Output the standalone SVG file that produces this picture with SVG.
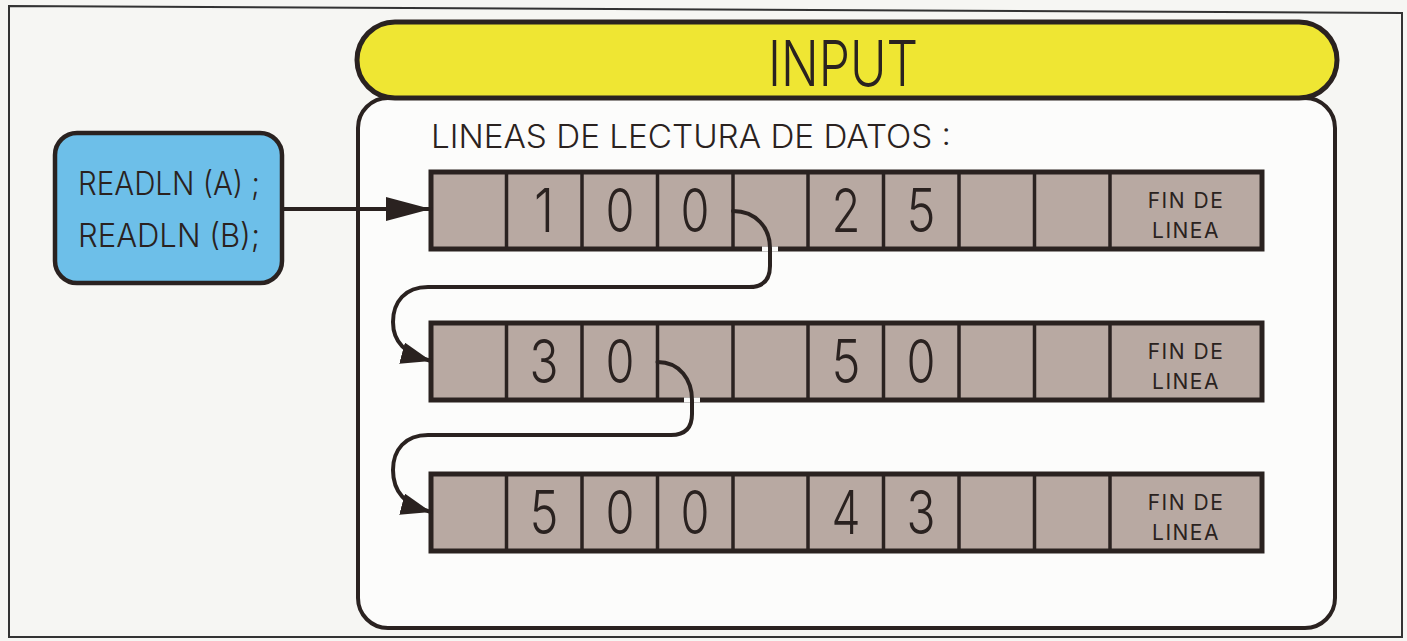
<svg xmlns="http://www.w3.org/2000/svg" width="1407" height="641" viewBox="0 0 1407 641">
<style>
.t{font-family:Inter,"Liberation Sans",sans-serif;font-weight:300;fill:#2a2220;}
.dig{font-size:60px;text-anchor:middle;}
.fin{font-size:21px;font-weight:400;text-anchor:middle;letter-spacing:1.5px;}
.cell{fill:#b8a9a2;}
.out{fill:none;stroke:#2a2220;stroke-width:5;}
.div{stroke:#2a2220;stroke-width:3.5;}
.con{fill:none;stroke:#2a2220;stroke-width:4;stroke-linecap:round;stroke-linejoin:round;}
.gap{fill:#fcfcfb;}
</style>
<defs>
<marker id="arrBig" markerUnits="userSpaceOnUse" markerWidth="46" markerHeight="26" refX="45" refY="12" orient="auto"><path d="M0,0 L45,12 L0,24 Z" fill="#2a2220"/></marker>
<marker id="arrSm" markerUnits="userSpaceOnUse" markerWidth="32" markerHeight="24" refX="30" refY="11" orient="auto"><path d="M0,0 L30,11 L0,22 Z" fill="#2a2220"/></marker>
</defs>
<rect x="0" y="0" width="1407" height="641" fill="#f6f6f3"/>
<path d="M9,6 L1402,13 L1402,637 L9,637 Z" fill="none" stroke="#333" stroke-width="2"/>

<g id="panel">
<rect x="358" y="98" width="977" height="530" rx="30" fill="#fcfcfb" stroke="#2a2220" stroke-width="4"/>
<text class="t" x="431" y="148" font-size="32" textLength="520" lengthAdjust="spacingAndGlyphs">LINEAS DE LECTURA DE DATOS :</text>
</g>

<g id="title">
<rect x="357" y="22" width="980" height="76" rx="38" fill="#efe633" stroke="#2a2220" stroke-width="5"/>
<text class="t" x="843" y="86" font-size="63" text-anchor="middle" textLength="150" lengthAdjust="spacingAndGlyphs">INPUT</text>
</g>

<g id="readln">
<rect x="55" y="133" width="227" height="150" rx="22" fill="#6dbfe9" stroke="#2a2220" stroke-width="4.5"/>
<text class="t" x="78" y="195" font-size="32" textLength="182" lengthAdjust="spacingAndGlyphs">READLN (A) ;</text>
<text class="t" x="78" y="247" font-size="32" textLength="182" lengthAdjust="spacingAndGlyphs">READLN (B);</text>
</g>

<g id="row1">
<rect class="cell" x="431" y="172" width="831" height="77"/>
<g class="div">
<line x1="506.5" y1="172" x2="506.5" y2="249"/><line x1="582" y1="172" x2="582" y2="249"/><line x1="657.5" y1="172" x2="657.5" y2="249"/><line x1="733" y1="172" x2="733" y2="249"/><line x1="808" y1="172" x2="808" y2="249"/><line x1="883.5" y1="172" x2="883.5" y2="249"/><line x1="959" y1="172" x2="959" y2="249"/><line x1="1034.5" y1="172" x2="1034.5" y2="249"/><line x1="1110" y1="172" x2="1110" y2="249"/>
</g>
<rect class="out" x="431" y="172" width="831" height="77"/>
<text class="t dig" x="544" y="232" textLength="20" lengthAdjust="spacingAndGlyphs">1</text>
<text class="t dig" x="620" y="232" textLength="29" lengthAdjust="spacingAndGlyphs">0</text>
<text class="t dig" x="695" y="232" textLength="29" lengthAdjust="spacingAndGlyphs">0</text>
<text class="t dig" x="846" y="232" textLength="29" lengthAdjust="spacingAndGlyphs">2</text>
<text class="t dig" x="921" y="232" textLength="29" lengthAdjust="spacingAndGlyphs">5</text>
<text class="t fin" x="1186" y="208">FIN DE</text>
<text class="t fin" x="1186" y="238">LINEA</text>
</g>

<g id="row2">
<rect class="cell" x="431" y="323" width="831" height="77"/>
<g class="div">
<line x1="506.5" y1="323" x2="506.5" y2="400"/><line x1="582" y1="323" x2="582" y2="400"/><line x1="657.5" y1="323" x2="657.5" y2="400"/><line x1="733" y1="323" x2="733" y2="400"/><line x1="808" y1="323" x2="808" y2="400"/><line x1="883.5" y1="323" x2="883.5" y2="400"/><line x1="959" y1="323" x2="959" y2="400"/><line x1="1034.5" y1="323" x2="1034.5" y2="400"/><line x1="1110" y1="323" x2="1110" y2="400"/>
</g>
<rect class="out" x="431" y="323" width="831" height="77"/>
<text class="t dig" x="544" y="383" textLength="29" lengthAdjust="spacingAndGlyphs">3</text>
<text class="t dig" x="620" y="383" textLength="29" lengthAdjust="spacingAndGlyphs">0</text>
<text class="t dig" x="846" y="383" textLength="29" lengthAdjust="spacingAndGlyphs">5</text>
<text class="t dig" x="921" y="383" textLength="29" lengthAdjust="spacingAndGlyphs">0</text>
<text class="t fin" x="1186" y="359">FIN DE</text>
<text class="t fin" x="1186" y="389">LINEA</text>
</g>

<g id="row3">
<rect class="cell" x="431" y="474" width="831" height="77"/>
<g class="div">
<line x1="506.5" y1="474" x2="506.5" y2="551"/><line x1="582" y1="474" x2="582" y2="551"/><line x1="657.5" y1="474" x2="657.5" y2="551"/><line x1="733" y1="474" x2="733" y2="551"/><line x1="808" y1="474" x2="808" y2="551"/><line x1="883.5" y1="474" x2="883.5" y2="551"/><line x1="959" y1="474" x2="959" y2="551"/><line x1="1034.5" y1="474" x2="1034.5" y2="551"/><line x1="1110" y1="474" x2="1110" y2="551"/>
</g>
<rect class="out" x="431" y="474" width="831" height="77"/>
<text class="t dig" x="544" y="534" textLength="29" lengthAdjust="spacingAndGlyphs">5</text>
<text class="t dig" x="620" y="534" textLength="29" lengthAdjust="spacingAndGlyphs">0</text>
<text class="t dig" x="695" y="534" textLength="29" lengthAdjust="spacingAndGlyphs">0</text>
<text class="t dig" x="846" y="534" textLength="29" lengthAdjust="spacingAndGlyphs">4</text>
<text class="t dig" x="921" y="534" textLength="29" lengthAdjust="spacingAndGlyphs">3</text>
<text class="t fin" x="1186" y="510">FIN DE</text>
<text class="t fin" x="1186" y="540">LINEA</text>
</g>

<g id="connectors">
<line x1="284" y1="209" x2="431" y2="209" class="con" marker-end="url(#arrBig)"/>
<rect class="gap" x="762" y="246.5" width="16" height="5"/>
<path class="con" d="M733,211 C756,211 770,228 770,248 L770,266 Q770,287 749,287 L428,287 C405,287 393,302 393,322 C393,342 405,354 431,361" marker-end="url(#arrSm)"/>
<rect class="gap" x="684" y="397.5" width="16" height="5"/>
<path class="con" d="M657.5,362 C680,362 692,380 692,400 L692,414 Q692,435 671,435 L428,435 C405,435 393,450 393,470 C393,492 405,505 431,512" marker-end="url(#arrSm)"/>
</g>
</svg>
